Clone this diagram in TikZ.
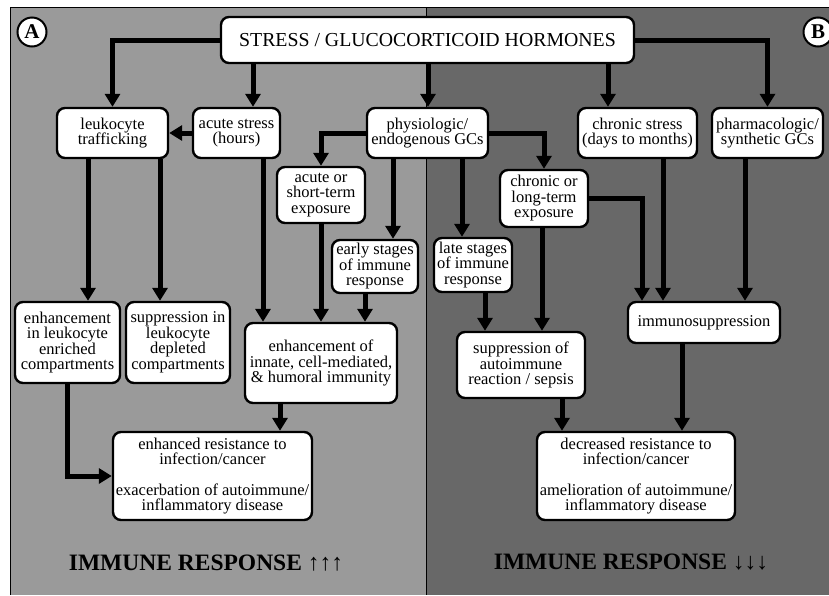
\documentclass[tikz,border=0pt]{standalone}
\usepackage{fontspec}
\setmainfont{Liberation Serif}
\usetikzlibrary{arrows.meta,calc}
\definecolor{paneA}{HTML}{9A9A9A}
\definecolor{paneB}{HTML}{686868}
\tikzset{
  gcbox/.style={draw, line width=2.4pt, rounded corners=8pt, fill=white, align=center, inner sep=1pt, font=\fontsize{16.5}{15.5}\selectfont},
  flow/.style={line width=5pt, -{Triangle[width=15pt,length=13pt]}},
  panellabel/.style={draw, circle, line width=2pt, fill=white, minimum size=29pt, inner sep=0pt, font=\fontsize{21}{21}\selectfont\bfseries},
  verdict/.style={font=\fontsize{23.5}{24}\selectfont\bfseries}
}
\begin{document}
\begin{tikzpicture}[x=1pt,y=-1pt]
\useasboundingbox (0,0) rectangle (829,595);
\clip (0,0) rectangle (829,595);
\fill[white] (0,0) rectangle (829,595);
% the two panels
\fill[paneA] (10,7) rectangle (426,595);
\fill[paneB] (426,7) rectangle (829,595);
\draw[line width=1pt] (10,595) |- (829,7);
\draw[line width=1pt] (426,7) -- (426,595);
\node[panellabel] (labA) at (32,32) {A};
\node[panellabel] (labB) at (818,32) {B};

% boxes
\node[gcbox, minimum width=413pt, minimum height=46pt, font=\fontsize{19.8}{20}\selectfont] (stress) at (427.5,40) {STRESS / GLUCOCORTICOID HORMONES};
\node[gcbox, minimum width=111pt, minimum height=50pt] (leuk) at (112.5,133) {leukocyte\\trafficking};
\node[gcbox, minimum width=87pt, minimum height=50pt] (acute) at (236.5,133) {acute stress\\(hours)};
\node[gcbox, minimum width=121pt, minimum height=50pt] (physio) at (427.5,133) {physiologic/\\endogenous GCs};
\node[gcbox, minimum width=119pt, minimum height=50pt] (chronic) at (637.5,133) {chronic stress\\(days to months)};
\node[gcbox, minimum width=111pt, minimum height=50pt] (pharma) at (767.5,133) {pharmacologic/\\synthetic GCs};
\node[gcbox, minimum width=88pt, minimum height=56pt] (acuteexp) at (321,195) {acute or\\short-term\\exposure};
\node[gcbox, minimum width=88pt, minimum height=57pt] (chronexp) at (544,198.5) {chronic or\\long-term\\exposure};
\node[gcbox, minimum width=86pt, minimum height=53pt] (early) at (375,266.5) {early stages\\of immune\\response};
\node[gcbox, minimum width=78pt, minimum height=54pt] (late) at (473,265) {late stages\\of immune\\response};
\node[gcbox, minimum width=105pt, minimum height=81pt] (enrich) at (67.5,342.5) {enhancement\\in leukocyte\\enriched\\compartments};
\node[gcbox, minimum width=104pt, minimum height=81pt] (deplete) at (178,342.5) {suppression in\\leukocyte\\depleted\\compartments};
\node[gcbox, minimum width=152pt, minimum height=80pt] (innate) at (321,363) {enhancement of\\innate, cell-mediated,\\\& humoral immunity};
\node[gcbox, minimum width=128pt, minimum height=66pt] (autoimm) at (521,365) {suppression of\\autoimmune\\reaction / sepsis};
\node[gcbox, minimum width=152pt, minimum height=41pt] (immsup) at (704,322.5) {immunosuppression};
\node[gcbox, minimum width=199pt, minimum height=88pt] (enhres) at (212.5,476) {enhanced resistance to\\infection/cancer\\[15pt]exacerbation of autoimmune/\\inflammatory disease};
\node[gcbox, minimum width=198pt, minimum height=88pt] (decres) at (636,476) {decreased resistance to\\infection/cancer\\[15pt]amelioration of autoimmune/\\inflammatory disease};

% connectors
\draw[flow] (stress.west) -| (leuk.north);
\draw[flow] (stress.south -| 253,0) -- (acute.north -| 253,0);
\draw[flow] (acute.west) -- (leuk.east);
\draw[flow] (stress.south -| 428,0) -- (physio.north -| 428,0);
\draw[flow] (physio.west) -| (acuteexp.north);
\draw[flow] (physio.east) -| (chronexp.north);
\draw[flow] (stress.south -| 608,0) -- (chronic.north -| 608,0);
\draw[flow] (stress.east) -| (pharma.north);
\draw[flow] (leuk.south -| 88,0) -- (enrich.north -| 88,0);
\draw[flow] (leuk.south -| 160,0) -- (deplete.north -| 160,0);
\draw[flow] (acute.south -| 263,0) -- (innate.north -| 263,0);
\draw[flow] (acuteexp.south) -- (innate.north -| acuteexp.south);
\draw[flow] (physio.south -| 393,0) -- (early.north -| 393,0);
\draw[flow] (early.south -| 365,0) -- (innate.north -| 365,0);
\draw[flow] (physio.south -| 462,0) -- (late.north -| 462,0);
\draw[flow] (late.south -| 485,0) -- (autoimm.north -| 485,0);
\draw[flow] (chronexp.south -| 542,0) -- (autoimm.north -| 542,0);
\draw[flow] (chronexp.east) -| (immsup.north -| 642,0);
\draw[flow] (chronic.south -| 663,0) -- (immsup.north -| 663,0);
\draw[flow] (pharma.south -| 745,0) -- (immsup.north -| 745,0);
\draw[flow] (enrich.south) |- (enhres.west);
\draw[flow] (innate.south -| 280,0) -- (enhres.north -| 280,0);
\draw[flow] (autoimm.south -| 562,0) -- (decres.north -| 562,0);
\draw[flow] (immsup.south -| 682,0) -- (decres.north -| 682,0);

% bottom verdicts
\node[verdict] (upA) at (206,563) {IMMUNE RESPONSE {\mdseries ↑↑↑}};
\node[verdict] (downB) at (631,562) {IMMUNE RESPONSE {\mdseries ↓↓↓}};
\end{tikzpicture}
\end{document}
